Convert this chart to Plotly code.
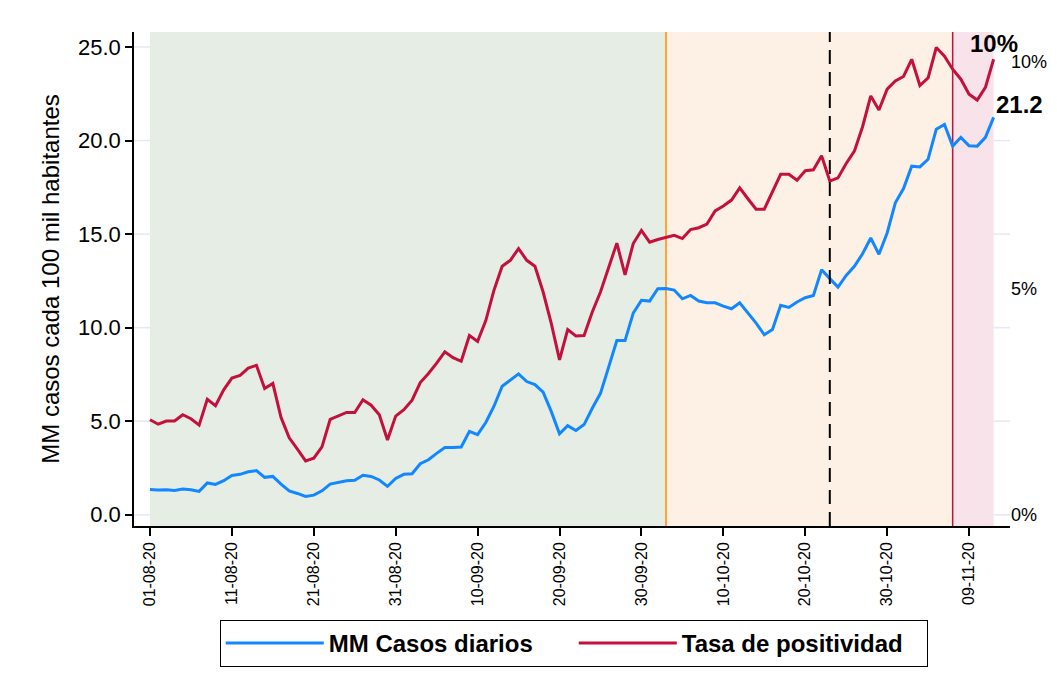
import pandas as pd
import plotly.graph_objects as go

# ---------------- data ----------------
start_date = "2020-08-01"
casos = [1.35, 1.32, 1.34, 1.30, 1.38, 1.34, 1.25, 1.70, 1.62, 1.82,
         2.10, 2.16, 2.30, 2.36, 2.00, 2.05, 1.64, 1.27, 1.14, 0.98,
         1.05, 1.28, 1.64, 1.75, 1.82, 1.84, 2.11, 2.05, 1.86, 1.52,
         1.94, 2.16, 2.19, 2.73, 2.94, 3.28, 3.59, 3.59, 3.62, 4.46,
         4.28, 4.93, 5.80, 6.87, 7.21, 7.53, 7.12, 6.96, 6.55, 5.51,
         4.33, 4.76, 4.50, 4.82, 5.69, 6.49, 7.89, 9.31, 9.31, 10.78,
         11.46, 11.42, 12.08, 12.09, 12.01, 11.54, 11.72, 11.42, 11.33, 11.33,
         11.15, 11.01, 11.33, 10.81, 10.24, 9.62, 9.90, 11.19, 11.08, 11.37,
         11.60, 11.72, 13.10, 12.62, 12.17, 12.79, 13.28, 13.95, 14.79, 13.92,
         15.06, 16.67, 17.43, 18.63, 18.59, 19.00, 20.61, 20.86, 19.70, 20.17,
         19.72, 19.70, 20.17, 21.24]
positividad = [2.10, 2.00, 2.07, 2.07, 2.21, 2.12, 1.98, 2.55, 2.41, 2.76,
               3.02, 3.08, 3.24, 3.30, 2.79, 2.90, 2.15, 1.70, 1.45, 1.19,
               1.25, 1.50, 2.11, 2.19, 2.26, 2.26, 2.54, 2.42, 2.21, 1.65,
               2.18, 2.32, 2.53, 2.92, 3.12, 3.35, 3.60, 3.47, 3.39, 3.96,
               3.83, 4.29, 4.96, 5.49, 5.62, 5.88, 5.62, 5.49, 4.92, 4.22,
               3.42, 4.09, 3.95, 3.96, 4.48, 4.92, 5.46, 6.00, 5.30, 5.99,
               6.28, 6.02, 6.08, 6.13, 6.17, 6.10, 6.30, 6.34, 6.42, 6.71,
               6.82, 6.95, 7.22, 6.98, 6.75, 6.75, 7.13, 7.52, 7.52, 7.39,
               7.60, 7.62, 7.93, 7.37, 7.44, 7.76, 8.03, 8.57, 9.25, 8.94,
               9.40, 9.58, 9.68, 10.06, 9.48, 9.65, 10.32, 10.13, 9.84, 9.62,
               9.29, 9.16, 9.44, 10.06]
series_names = ["MM Casos diarios", "Tasa de positividad"]
phase_changes = ["2020-10-03", "2020-11-07"]   # solid vertical lines / shading limits
event_date = "2020-10-23"                        # dashed vertical line
left_ticks = [0, 5, 10, 15, 20, 25]
right_ticks = [0, 5, 10]

dates = pd.date_range(start_date, periods=len(casos))
xticks = dates[::10]

BLUE = "#1287ff"
RED = "#c4103c"
GRID = "#e3eaf1"
FONT = "Liberation Sans, Arial, Helvetica, sans-serif"

ratio = 45.2 / 18.68
ymin, ymax = -0.6, 25.8
x0_range = dates[0] - pd.Timedelta(days=1.95)
x1_range = dates[0] + pd.Timedelta(days=105.0)

fig = go.Figure()
fig.add_trace(go.Scatter(x=dates, y=casos, name=series_names[0], mode="lines",
                         line=dict(color=BLUE, width=3), yaxis="y"))
fig.add_trace(go.Scatter(x=dates, y=positividad, name=series_names[1], mode="lines",
                         line=dict(color=RED, width=3), yaxis="y2"))

# faint gridlines, only visible outside the shaded period
for v in left_ticks:
    for gx0, gx1 in [(x0_range, dates[0]), (dates[-1], x1_range)]:
        fig.add_shape(type="line", xref="x", yref="y", x0=gx0, x1=gx1, y0=v, y1=v,
                      line=dict(color=GRID, width=1.5), layer="below")

# shaded phases
regions = [(dates[0], phase_changes[0], "#e5ede4"),
           (phase_changes[0], phase_changes[1], "#fdf1e5"),
           (phase_changes[1], dates[-1], "#f7e3e9")]
for x0, x1, col in regions:
    fig.add_shape(type="rect", xref="x", yref="paper", x0=x0, x1=x1, y0=0, y1=1,
                  fillcolor=col, line_width=0, layer="below")
fig.add_shape(type="line", xref="x", yref="paper", x0=phase_changes[0], x1=phase_changes[0],
              y0=0, y1=1, line=dict(color="#ff8a00", width=1.5), layer="below")
fig.add_shape(type="line", xref="x", yref="paper", x0=phase_changes[1], x1=phase_changes[1],
              y0=0, y1=1, line=dict(color=RED, width=1.5), layer="below")
fig.add_shape(type="line", xref="x", yref="paper", x0=event_date, x1=event_date,
              y0=0, y1=1, line=dict(color="black", width=2, dash="14px,8px"), layer="above")

# end labels
fig.add_annotation(x=dates[-1], y=positividad[-1], yref="y2", text=f"<b>{positividad[-1]:.0f}%</b>",
                   showarrow=False, xanchor="center", yanchor="bottom", yshift=0,
                   font=dict(size=24, color="black", family=FONT))
fig.add_annotation(x=dates[-1], y=casos[-1], yref="y", text=f"<b>{casos[-1]:.1f}</b>",
                   showarrow=False, xanchor="left", yanchor="bottom", xshift=0, yshift=-3,
                   font=dict(size=24, color="black", family=FONT))

fig.update_layout(
    width=1041, height=678,
    margin=dict(l=126, r=39, t=24, b=160),
    paper_bgcolor="white", plot_bgcolor="white",
    font=dict(family=FONT, color="black"),
    showlegend=True,
    legend=dict(orientation="h", x=0.502, xanchor="center", y=-0.19, yanchor="top",
                bordercolor="black", borderwidth=1, bgcolor="white",
                font=dict(size=24, family=FONT, weight="bold"),
                itemwidth=98, entrywidth=240),
    xaxis=dict(type="date", range=[x0_range, x1_range], tickvals=xticks,
               ticktext=[d.strftime("%d-%m-%y") for d in xticks], tickangle=-90,
               ticks="outside", ticklen=8, tickwidth=1.5, tickcolor="black",
               showline=True, linecolor="black", linewidth=1.5, showgrid=False,
               zeroline=False, tickfont=dict(size=16), automargin=False),
    yaxis=dict(range=[ymin, ymax], tickvals=left_ticks, ticktext=[f"{v:.1f}" for v in left_ticks],
               ticks="outside", ticklen=7, tickwidth=1.5, tickcolor="black",
               showline=True, linecolor="black", linewidth=1.5,
               showgrid=False, zeroline=False,
               tickfont=dict(size=22), automargin=False,
               title=dict(text="MM casos cada 100 mil habitantes", font=dict(size=24), standoff=12)),
    yaxis2=dict(overlaying="y", side="right", range=[ymin / ratio, ymax / ratio],
                tickvals=right_ticks, ticktext=[f"{v}%" for v in right_ticks],
                showline=False, ticks="", showgrid=False, zeroline=False,
                tickfont=dict(size=18), automargin=False),
)

fig.write_html("out.html")
